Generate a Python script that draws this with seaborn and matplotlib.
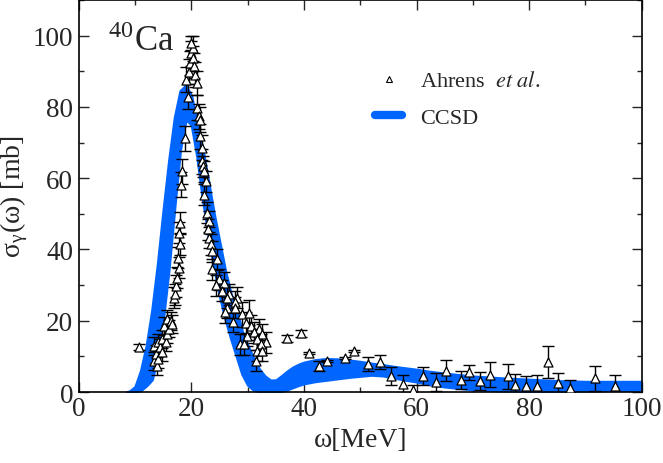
import numpy as np
import pandas as pd
import seaborn as sns
import matplotlib.pyplot as plt
from matplotlib.lines import Line2D
from matplotlib.ticker import MultipleLocator

# CCSD band (lower / upper edge)
band_x = [8.5, 9, 10, 11, 12, 13, 14, 15, 16, 17, 18, 19, 20, 21, 22, 23, 24, 25,
          26, 27, 28, 29, 30, 31, 32, 33, 34, 35, 36, 37, 38, 39, 40, 42, 44, 46,
          48, 50, 52, 54, 56, 58, 60, 62, 65, 70, 75, 80, 85, 90, 95, 100]
band_hi = [0, 0.2, 1.5, 6, 13, 23, 36, 51, 65, 77, 84.5, 86, 83, 75, 68, 59, 50, 42,
           34, 27.5, 23, 17, 13, 9.5, 6.5, 4.5, 3.3, 3.3, 4.5, 5.8, 6.9, 7.7, 8.3, 9.0, 9.3, 9.2,
           8.9, 8.5, 8.0, 7.6, 7.1, 6.7, 6.3, 5.8, 5.2, 4.4, 3.9, 3.5, 3.1, 2.9, 2.9, 2.9]
band_lo = [0, 0, 0, 0.5, 1.8, 3.5, 10, 21, 35, 52, 68, 76.5, 75, 66, 54, 44, 35, 27,
           20.5, 15, 10, 5, 2, 0.6, 0.2, 0, 0, 0, 0.2, 0.7, 1.3, 1.9, 2.4, 3.0, 3.4, 3.8,
           4.2, 4.5, 4.8, 4.6, 4.0, 3.4, 2.9, 2.2, 1.5, 0.7, 0.4, 0.3, 0.3, 0.4, 0.5, 0.6]

# Ahrens et al. data
ahrens_x = [10.7, 13.4, 13.8, 13.4, 13.7, 14.0, 14.1, 14.4, 14.8, 14.8, 15.1, 15.4, 15.7, 15.7,
            16.0, 16.3, 16.6, 16.9, 17.0, 17.2, 17.5, 17.8, 17.6, 18.0, 17.8, 18.0, 18.1, 18.4,
            18.9, 19.3, 19.1, 19.6, 19.7, 20.0, 20.2, 19.9, 20.3, 20.4, 20.7, 21.0, 21.0, 21.3,
            21.5, 21.6, 21.8, 21.9, 22.1, 22.2, 22.5, 22.2, 22.8, 23.1, 22.9, 23.1, 23.4, 23.6,
            24.6, 23.7, 24.9, 24.4, 25.8, 25.5, 26.6, 26.4, 28.1, 27.7, 26.4, 27.8, 25.9, 29.0,
            30.2, 27.3, 29.6, 30.5, 32.0, 31.1, 32.6, 29.9, 31.7, 33.2, 28.7, 29.3, 32.3, 31.7,
            32.6, 31.4, 37.0, 39.5, 40.9, 42.7, 44.0, 47.3, 48.9, 51.3, 53.5, 55.5, 57.6, 59.3,
            61.2, 63.5, 65.2, 67.9, 69.3, 71.3, 73.0, 76.3, 77.5, 79.4, 81.4, 83.3, 85.2, 87.3,
            91.7, 95.3]
ahrens_y = [12.7, 8.8, 7.4, 13.0, 10.6, 13.9, 9.2, 12.5, 11.1, 14.8, 18.6, 13.9, 16.2, 20.4,
            17.8, 20.0, 19.0, 26.5, 27.4, 29.7, 32.1, 34.9, 37.7, 41.4, 44.7, 47.5, 58.2, 61.9,
            71.2, 82.9, 87.6, 89.9, 92.3, 95.1, 96.5, 97.9, 93.7, 91.5, 89.0, 86.7, 79.7, 77.3,
            76.4, 71.7, 68.5, 64.7, 63.3, 61.9, 59.1, 55.4, 50.3, 47.9, 45.6, 43.3, 41.4, 39.5,
            37.2, 34.4, 31.6, 29.9, 30.7, 28.4, 27.4, 26.5, 26.5, 25.2, 23.7, 23.7, 22.5, 21.8,
            22.3, 19.7, 19.5, 18.6, 17.6, 16.7, 16.2, 15.8, 14.8, 13.9, 13.4, 13.4, 13.4, 11.6,
            11.6, 8.8, 15.1, 16.5, 10.9, 7.3, 8.7, 9.5, 11.6, 7.8, 8.4, 4.6, 2.2, 0.6,
            4.4, 2.9, 6.0, 3.4, 5.5, 3.0, 4.8, 4.4, 2.0, 1.6, 1.8, 8.5, 2.4, 1.0,
            3.8, 1.8]
ahrens_err = [0.8, 2.5, 2.5, 2.5, 2.5, 2.5, 2.5, 2.5, 2.5, 2.5, 2.5, 2.5, 2.5, 2.5,
              2.5, 2.5, 2.5, 3, 3, 3, 3, 3, 3, 3, 3, 3, 3.5, 3.5,
              3.5, 3.5, 3.5, 3.5, 3.5, 3.5, 3.5, 2, 3.5, 3.5, 3.5, 3.5, 3.5, 3.5,
              3.5, 3.5, 3.5, 3.5, 3, 3, 3, 3, 3, 3, 3, 3, 3, 3,
              3, 3, 3, 3, 3, 3, 3, 3, 3, 3, 3, 3, 3, 3.5,
              3.5, 3, 3, 3, 3, 3, 3, 3, 3, 3, 3, 3, 3, 3,
              3, 3, 1, 1, 0.3, 1.5, 0.3, 0.3, 0.3, 2, 2, 2.5, 2.5, 1.5,
              2.5, 2.5, 3, 2.5, 2, 2.5, 3.5, 3.5, 3, 3, 3, 4.5, 3, 2.5,
              3.5, 3]

df = pd.DataFrame({'omega': ahrens_x, 'sigma': ahrens_y, 'err': ahrens_err})

sns.set_theme(style='ticks')
plt.rcParams['font.family'] = ['Liberation Serif', 'DejaVu Serif']
plt.rcParams['mathtext.fontset'] = 'stix'

blue = '#0066ff'
fig = plt.figure(figsize=(6.63, 4.64), dpi=100)
ax = fig.add_axes([0.119, 0.153, 0.849, 0.845])

ax.fill_between(band_x, band_lo, band_hi, color=blue, lw=2.0, edgecolor=blue, zorder=2)

ax.errorbar(df.omega, df.sigma, yerr=df.err, fmt='none', ecolor='black',
            elinewidth=1.0, capsize=4.5, capthick=1.0, zorder=3)
sns.scatterplot(data=df, x='omega', y='sigma', marker='^', s=42, color='white',
                edgecolor='black', linewidth=0.9, ax=ax, zorder=4, legend=False)

ax.set_xlim(0, 100)
ax.set_ylim(0, 110)
ax.xaxis.set_major_locator(MultipleLocator(20))
ax.xaxis.set_minor_locator(MultipleLocator(10))
ax.yaxis.set_major_locator(MultipleLocator(20))
ax.yaxis.set_minor_locator(MultipleLocator(10))
ax.tick_params(which='both', direction='in', top=True, right=True, labelsize=19.5, width=1.0)
ax.tick_params(axis='x', which='major', length=7, pad=3)
ax.tick_params(axis='y', which='major', length=7, pad=4)
ax.tick_params(which='minor', length=3.5)
for sp in ax.spines.values():
    sp.set_linewidth(1.2)
    sp.set_color('black')

ax.set_xlabel('ω[MeV]', fontsize=20, labelpad=4)
ax.set_ylabel(r'σ$_\mathregular{γ}$(ω) [mb]', fontsize=20, labelpad=2)

ax.text(5.2, 96, r'$^{\mathregular{40}}$Ca', fontsize=25, ha='left', va='baseline')

handles = [Line2D([], [], ls='none', marker='^', markersize=5, markerfacecolor='white',
                  markeredgecolor='black', markeredgewidth=0.8),
           Line2D([], [], color=blue, lw=6)]
ax.legend(handles, [r'Ahrens  $\it{et\ al}$.', 'CCSD'], loc='upper left',
          bbox_to_anchor=(0.49, 0.87), frameon=False, fontsize=16,
          handlelength=1.25, handletextpad=0.8, labelspacing=0.7)

fig.savefig('out.png', dpi=100)
